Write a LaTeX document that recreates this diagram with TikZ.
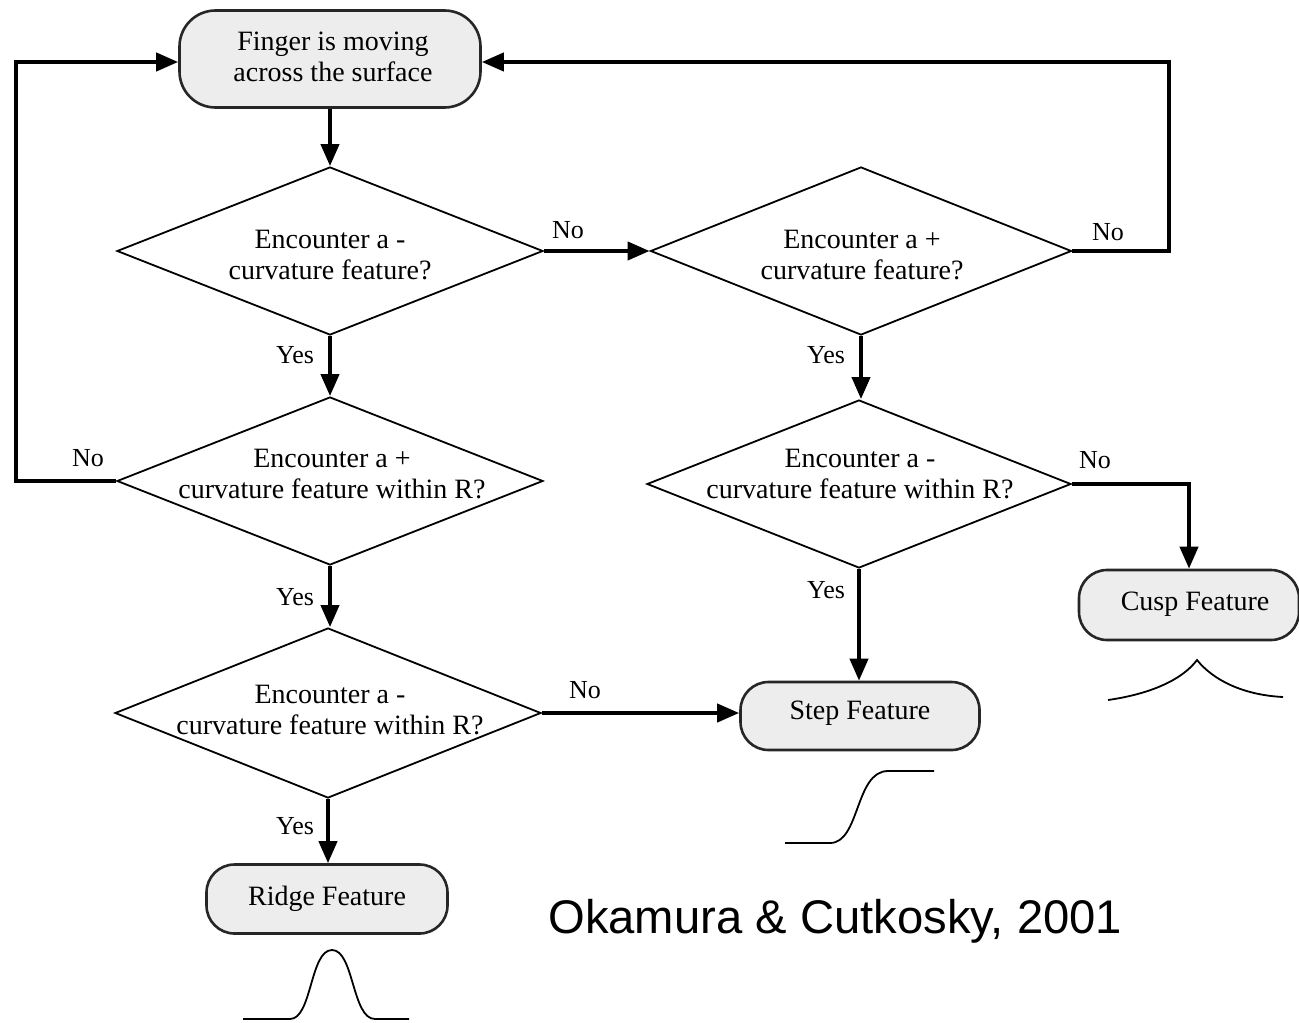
\documentclass[tikz,border=0pt]{standalone}
\usepackage{fontspec}
\setmainfont{Liberation Serif}
\newfontfamily\citefont{Liberation Sans}
\usetikzlibrary{shapes.geometric,arrows.meta}
\begin{document}
\begin{tikzpicture}[x=0.5pt,y=-0.5pt,
  dia/.style={draw, diamond, line width=0.9pt, minimum width=213pt, minimum height=84pt, inner sep=0pt},
  box/.style={draw=black!85, line width=1.3pt, fill=black!7, rounded corners=14pt, inner sep=0pt},
  txt/.style={align=center, font=\fontsize{14}{15.5}\selectfont, inner sep=0pt},
  lab/.style={font=\fontsize{13}{15}\selectfont, inner sep=0pt},
  arr/.style={line width=2pt, -{Triangle[length=11pt,width=9pt]}},
  curve/.style={line width=0.9pt}
]
\useasboundingbox (0,0) rectangle (1299,1022);

% boxes
\node[box, minimum width=150.5pt, minimum height=48.5pt, rounded corners=18pt] (start) at (330,59) {};
\node[txt] (startt) at (333,57) {Finger is moving\\across the surface};

\node[box, minimum width=120.5pt, minimum height=34.5pt] (ridge) at (327,899) {};
\node[txt] (ridget) at (327,899) {Ridge Feature};

\node[box, minimum width=119.5pt, minimum height=34pt] (step) at (860,716) {};
\node[txt] (stept) at (860,713) {Step Feature};

\node[box, minimum width=110pt, minimum height=35pt] (cusp) at (1189,605) {};
\node[txt] (cuspt) at (1195,604) {Cusp Feature};

% diamonds
\node[dia] (d1) at (330,251) {};
\node[txt] (d1t) at (330,255) {Encounter a -\\curvature feature?};
\node[dia, minimum width=210.5pt] (d2) at (861,251) {};
\node[txt] (d2t) at (862,255) {Encounter a +\\curvature feature?};
\node[dia] (d3) at (330,481) {};
\node[txt] (d3t) at (332,474) {Encounter a +\\curvature feature within R?};
\node[dia, minimum height=85pt] (d4) at (328,713) {};
\node[txt] (d4t) at (330,710) {Encounter a -\\curvature feature within R?};
\node[dia, minimum width=212pt] (d5) at (859,484) {};
\node[txt] (d5t) at (860,474) {Encounter a -\\curvature feature within R?};

% coordinates for loops
\coordinate (lc) at (16,481);
\coordinate (rc) at (1169,251);

% connectors
\draw[arr] (start.south) -- (start.south |- d1.north);
\draw[arr] (d1.south) -- (d1.south |- d3.north);
\draw[arr] (d3.south) -- (d3.south |- d4.north);
\draw[arr] (d4.south) -- (d4.south |- ridge.north);
\draw[arr] (d1.east) -- (d2.west);
\draw[arr] (d2.east) -- (rc) |- ([yshift=-1.5pt]start.east);
\draw[arr] (d3.west) -- (lc) |- ([yshift=-1.5pt]start.west);
\draw[arr] (d2.south) -- (d2.south |- d5.north);
\draw[arr] (d5.south) -- (d5.south |- step.north);
\draw[arr] (d4.east) -- (d4.east -| step.west);
\draw[arr] (d5.east) -| (cusp.north);

% labels
\node[lab] (n1) at (568,230) {No};
\node[lab] (n2) at (1108,232) {No};
\node[lab] (n3) at (88,458) {No};
\node[lab] (n4) at (585,690) {No};
\node[lab] (n5) at (1095,460) {No};
\node[lab] (y1) at (295,355) {Yes};
\node[lab] (y2) at (826,355) {Yes};
\node[lab] (y3) at (295,597) {Yes};
\node[lab] (y4) at (295,826) {Yes};
\node[lab] (y5) at (826,590) {Yes};

% feature sketches
\draw[curve] (243,1019) -- (290,1019) .. controls (312,1019) and (310,950) .. (332,950)
  .. controls (354,950) and (352,1019) .. (375,1019) -- (409,1019);
\draw[curve] (785,843) -- (830,843) .. controls (860,843) and (855,771) .. (888,771) -- (934,771);
\draw[curve] (1108,700) .. controls (1150,694) and (1182,680) .. (1197,660)
  .. controls (1213,680) and (1243,695) .. (1283,697);

% citation
\node[anchor=base west, inner sep=0pt, font=\citefont\fontsize{23.6}{28}\selectfont] (cite) at (548,933) {Okamura \& Cutkosky, 2001};
\end{tikzpicture}
\end{document}
